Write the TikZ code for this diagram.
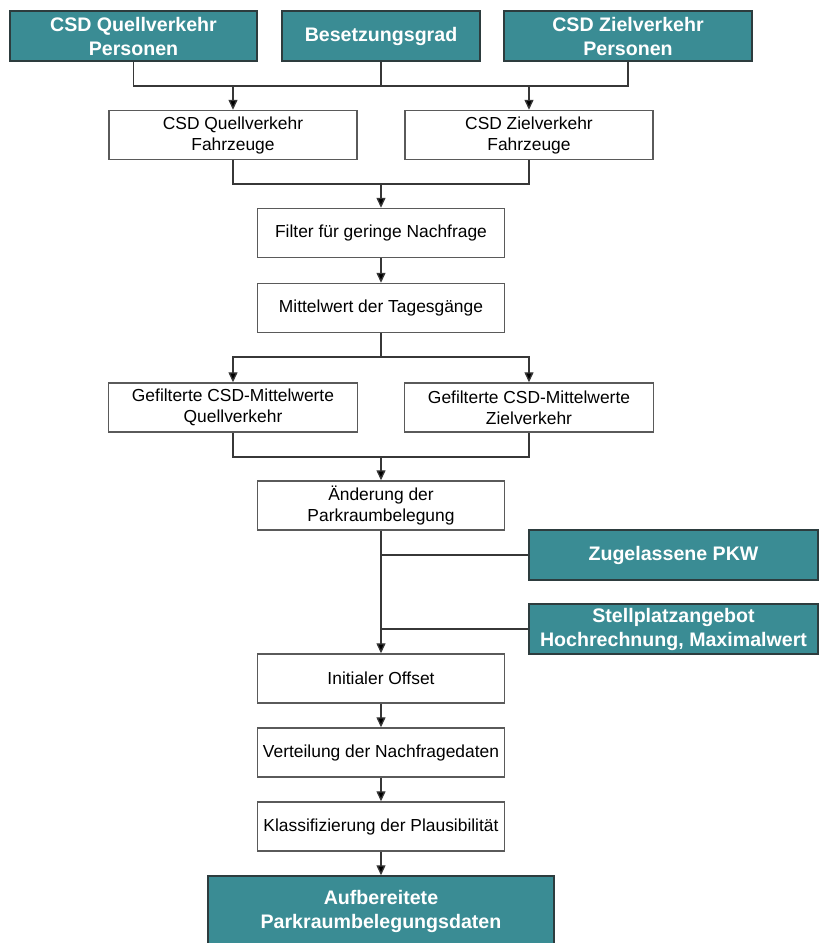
\documentclass[tikz,border=0pt]{standalone}
\usepackage{fontspec}
\setmainfont{Liberation Sans}
\usetikzlibrary{arrows.meta}
\definecolor{tealfill}{RGB}{58,140,148}
\definecolor{tealedge}{RGB}{45,60,62}
\definecolor{boxedge}{RGB}{90,90,90}
\definecolor{wire}{RGB}{55,55,55}
\tikzset{
  procbox/.style={draw=boxedge, line width=1.4pt, fill=white, minimum width=247pt,
    minimum height=49pt, align=center, inner sep=0pt,
    font=\fontsize{17.4}{21}\selectfont},
  databox/.style={draw=tealedge, line width=1.5pt, fill=tealfill, text=white,
    minimum height=50pt, align=center, inner sep=0pt,
    font=\fontsize{19.6}{24}\selectfont\bfseries},
  link/.style={draw=wire, line width=1.3pt},
  arr/.style={link, -{Triangle[length=10pt,width=9pt,fill=black]}}
}
\begin{document}
\begin{tikzpicture}[x=1pt, y=-1pt]
\clip (0,0) rectangle (819,943);
\fill[white] (0,0) rectangle (819,943);

% input data (top row)
\node[databox, minimum width=247pt] (qp) at (133.5,36) {CSD Quellverkehr\\Personen};
\node[databox, minimum width=198pt] (bg) at (381,36) {Besetzungsgrad};
\node[databox, minimum width=248pt] (zp) at (628,36) {CSD Zielverkehr\\Personen};

% vehicle flows
\node[procbox, minimum width=248pt] (qf) at (233,135) {CSD Quellverkehr\\Fahrzeuge};
\node[procbox, minimum width=248pt] (zf) at (529,135) {CSD Zielverkehr\\Fahrzeuge};

% main processing chain
\node[procbox] (filt) at (381,233) {Filter für geringe Nachfrage};
\node[procbox] (mw) at (381,308) {Mittelwert der Tagesgänge};
\node[procbox, minimum width=249pt] (gq) at (233,407.5) {Gefilterte CSD-Mittelwerte\\Quellverkehr};
\node[procbox, minimum width=249pt] (gz) at (529,407.5) {Gefilterte CSD-Mittelwerte\\Zielverkehr};
\node[procbox] (aend) at (381,505.5) {Änderung der\\Parkraumbelegung};

% side inputs
\node[databox, minimum width=289pt] (pkw) at (673.5,555) {Zugelassene PKW};
\node[databox, minimum width=289pt] (stp) at (673.5,629) {Stellplatzangebot\\Hochrechnung, Maximalwert};

\node[procbox] (init) at (381,678.5) {Initialer Offset};
\node[procbox] (vert) at (381,752.5) {Verteilung der Nachfragedaten};
\node[procbox] (klass) at (381,826.5) {Klassifizierung der Plausibilität};
\node[databox, minimum width=346pt, minimum height=70pt] (aufb) at (381,911) {Aufbereitete\\Parkraumbelegungsdaten};

% junction points
\coordinate (bus1) at (381,86);
\coordinate (bus2) at (381,184);
\coordinate (bus3) at (381,357);
\coordinate (bus4) at (381,457);

% connectors
\draw[link] (qp.south) |- (bus1) -| (zp.south);
\draw[link] (bg.south) -- (bus1);
\draw[arr] (qf.north |- bus1) -- (qf.north);
\draw[arr] (zf.north |- bus1) -- (zf.north);

\draw[link] (qf.south) |- (bus2) -| (zf.south);
\draw[arr] (bus2) -- (filt.north);
\draw[arr] (filt.south) -- (mw.north);

\draw[link] (mw.south) -- (bus3);
\draw[arr] (bus3) -| (gq.north);
\draw[arr] (bus3) -| (gz.north);

\draw[link] (gq.south) |- (bus4) -| (gz.south);
\draw[arr] (bus4) -- (aend.north);

\draw[arr] (aend.south) -- (init.north);
\draw[link] (pkw.west) -- (pkw.west -| aend.south);
\draw[link] (stp.west) -- (stp.west -| aend.south);

\draw[arr] (init.south) -- (vert.north);
\draw[arr] (vert.south) -- (klass.north);
\draw[arr] (klass.south) -- (aufb.north);
\end{tikzpicture}
\end{document}
